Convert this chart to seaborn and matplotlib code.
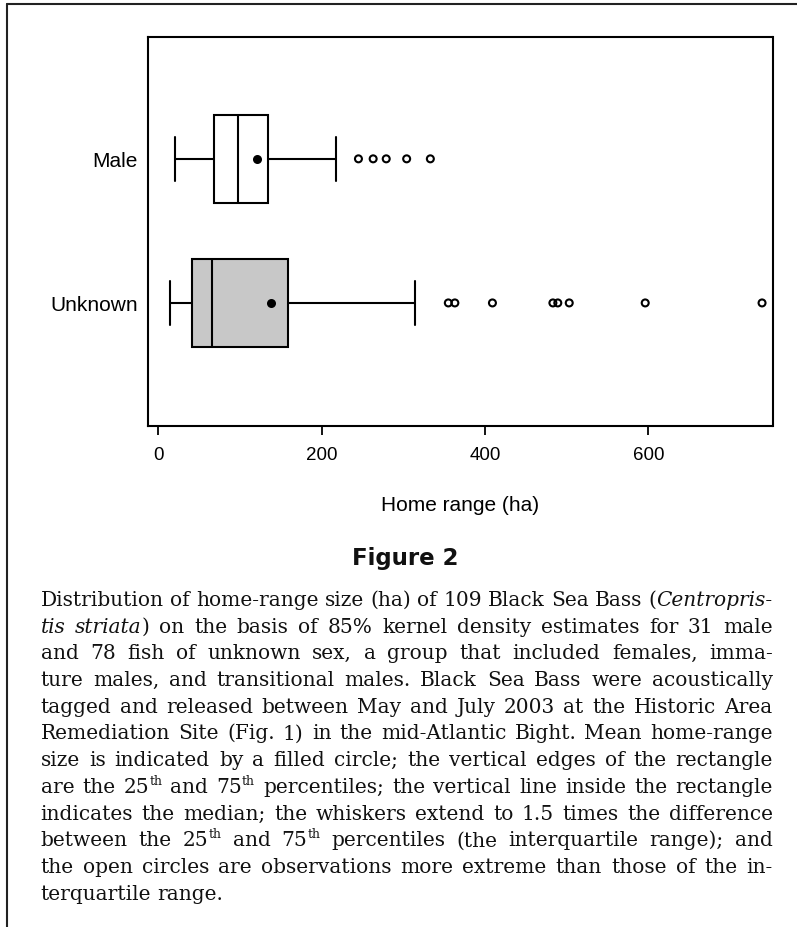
import numpy as np
import pandas as pd
import matplotlib
matplotlib.use("Agg")
import matplotlib.pyplot as plt
import seaborn as sns
from matplotlib.lines import Line2D

# ---------------- data ----------------
groups = ["Male", "Unknown"]
whisker_low = [20.0, 14.0]
quartile_1 = [68.5, 41.5]
median = [98.0, 66.0]
quartile_3 = [134.0, 158.5]
whisker_high = [217.5, 314.5]
mean = [121.0, 138.0]
male_outliers = [245, 263, 279, 304, 333]
unknown_outliers = [355, 363, 409, 483, 489, 503, 596, 739]
x_ticks = [0, 200, 400, 600]
box_colors = ["white", "#c8c8c8"]

x_label = "Home range (ha)"
figure_title = "Figure 2"
caption_lines = [
    "Distribution of home-range size (ha) of 109 Black Sea Bass (*Centropris-*",
    "*tis striata*) on the basis of 85% kernel density estimates for 31 male",
    "and 78 fish of unknown sex, a group that included females, imma-",
    "ture males, and transitional males. Black Sea Bass were acoustically",
    "tagged and released between May and July 2003 at the Historic Area",
    "Remediation Site (Fig. 1) in the mid-Atlantic Bight. Mean home-range",
    "size is indicated by a filled circle; the vertical edges of the rectangle",
    "are the 25^th^ and 75^th^ percentiles; the vertical line inside the rectangle",
    "indicates the median; the whiskers extend to 1.5 times the difference",
    "between the 25^th^ and 75^th^ percentiles (the interquartile range); and",
    "the open circles are observations more extreme than those of the in-",
    "terquartile range.",
]

# ---------------- style ----------------
sns.set_theme(style="ticks")
plt.rcParams["font.family"] = ["Liberation Sans", "DejaVu Sans"]

W, H = 797, 928
fig = plt.figure(figsize=(W / 100, H / 100), dpi=100)
fig.patch.set_facecolor("white")
ax = fig.add_axes([147.5 / W, 1 - 426.7 / H, 625 / W, (426.7 - 37.5) / H])
ax.set_facecolor("white")

# ---------------- boxes ----------------
box_df = pd.DataFrame({
    "group": np.repeat(groups, 5),
    "value": np.ravel(np.column_stack([whisker_low, quartile_1, median,
                                       quartile_3, whisker_high])),
})
sns.boxplot(data=box_df, x="value", y="group", hue="group", order=groups,
            hue_order=groups, palette=dict(zip(groups, box_colors)),
            saturation=1, width=0.61, whis=(0, 100), showfliers=False,
            linecolor="black", linewidth=1.5, legend=False, ax=ax)

# ---------------- outliers (open circles) ----------------
out_df = pd.DataFrame({
    "group": ["Male"] * len(male_outliers) + ["Unknown"] * len(unknown_outliers),
    "value": male_outliers + unknown_outliers,
})
n_before = len(ax.collections)
sns.stripplot(data=out_df, x="value", y="group", order=groups, jitter=False,
              size=5.0, marker="o", color="black", edgecolor="black",
              linewidth=1.5, ax=ax, zorder=4)
for c in ax.collections[n_before:]:
    c.set_facecolor("none")

# ---------------- means (filled circles) ----------------
mean_df = pd.DataFrame({"group": groups, "value": mean})
sns.stripplot(data=mean_df, x="value", y="group", order=groups, jitter=False,
              size=6.5, marker="o", color="black", linewidth=0, ax=ax, zorder=5)

# ---------------- axes cosmetics ----------------
ax.set_xlim(-13.2, 751.8)
ax.set_ylim(1.852, -0.849)
ax.set_xticks(x_ticks)
ax.set_xticklabels([str(t) for t in x_ticks])
ax.tick_params(axis="x", length=6.5, width=1.3, pad=8, labelsize=13.5,
               color="black", labelcolor="black", direction="out")
ax.tick_params(axis="y", length=0, pad=7, labelsize=15, labelcolor="black")
for s in ax.spines.values():
    s.set_visible(True)
    s.set_linewidth(1.5)
    s.set_color("black")
ax.set_ylabel("")
ax.set_xlabel(x_label, fontsize=15, labelpad=23, color="black")

# ---------------- page frame ----------------
fig.add_artist(Line2D([7 / W, 7 / W], [1 - 5 / H, 0], transform=fig.transFigure,
                      color="#222222", lw=1.5))
fig.add_artist(Line2D([7 / W, 1], [1 - 5 / H, 1 - 5 / H], transform=fig.transFigure,
                      color="#222222", lw=1.5))

# ---------------- figure title ----------------
fig.text(405.5 / W, 1 - 559 / H, figure_title, ha="center", va="center",
         fontsize=16.5, fontweight="bold", family="DejaVu Sans", color="#111111")

# ---------------- justified caption ----------------
def parse_line(line):
    words, cur, buf = [], [], ""
    italic = sup = False
    for ch in line:
        if ch in "*^ ":
            if buf:
                cur.append((buf, italic, sup))
                buf = ""
            if ch == "*":
                italic = not italic
            elif ch == "^":
                sup = not sup
            else:
                if cur:
                    words.append(cur)
                    cur = []
        else:
            buf += ch
    if buf:
        cur.append((buf, italic, sup))
    if cur:
        words.append(cur)
    return words


renderer = fig.canvas.get_renderer()


def seg_kw(italic, sup, size):
    return dict(family="DejaVu Serif", style="italic" if italic else "normal",
                fontsize=size * 0.62 if sup else size, color="#111111")


def seg_width(text, italic, sup, size):
    t = fig.text(0, 0, text, **seg_kw(italic, sup, size))
    w = t.get_window_extent(renderer).width
    t.remove()
    return w


parsed = [parse_line(l) for l in caption_lines]
x_left, x_right = 40.7, 772.7
target = x_right - x_left

size = 14.5
while True:
    em = size * 100 / 72
    widths = [[sum(seg_width(*s, size) for s in w) for w in words] for words in parsed]
    ok = True
    for words, ws in zip(parsed[:-1], widths[:-1]):
        gap = (target - sum(ws)) / (len(ws) - 1)
        if gap < 0.16 * em:
            ok = False
    if ok or size < 9:
        break
    size -= 0.25

em = size * 100 / 72
base0, spacing = 606.0, 26.7
for i, (words, ws) in enumerate(zip(parsed, widths)):
    if i < len(parsed) - 1:
        gap = (target - sum(ws)) / (len(ws) - 1)
    else:
        gap = 0.3 * em
    y_px = base0 + i * spacing
    x = x_left
    for w, wd in zip(words, ws):
        xs = x
        for (txt, it, sp) in w:
            raise_px = 0.4 * em if sp else 0.0
            fig.text(xs / W, 1 - (y_px - raise_px) / H, txt, ha="left",
                     va="baseline", **seg_kw(it, sp, size))
            xs += seg_width(txt, it, sp, size)
        x += wd + gap

fig.savefig("out.png", dpi=100, facecolor="white")
